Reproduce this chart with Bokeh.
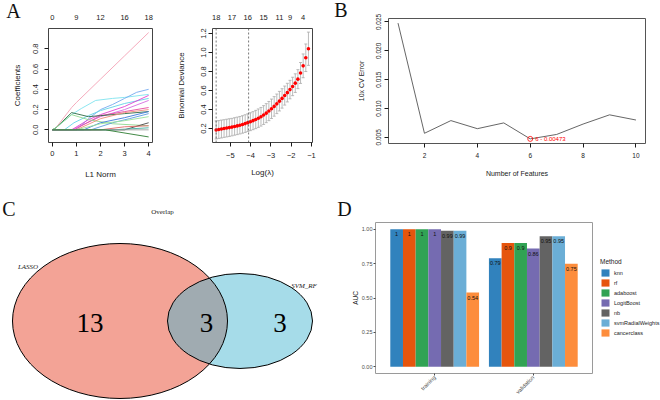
import math
from bokeh.plotting import figure
from bokeh.models import (Range1d, FixedTicker, LinearAxis, Legend, LegendItem, GridBox,
                          Whisker, TeeHead, ColumnDataSource, Span, PrintfTickFormatter)
from bokeh.embed import file_html
from bokeh.resources import INLINE
from bokeh.core.properties import value
from bokeh.transform import dodge

SANS = "Liberation Sans"
SERIF = "Liberation Serif"
INK = "#1a1a1a"

# ---------------- data ----------------
# Panel A (left): LASSO coefficient paths against L1 norm (knots)
coef_x = [
    [0, 0.15, 0.8, 1.0, 2.0, 3.0, 4.0],
    [0, 0.15, 0.5, 0.8, 1.2, 1.8, 2.5, 3.0, 4.0],
    [0, 1.0, 1.5, 2.0, 2.5, 3.0, 3.5, 4.0],
    [0, 0.5, 0.9, 1.5, 2.0, 3.0, 4.0],
    [0, 0.8, 1.5, 2.0, 3.0, 4.0],
    [0, 0.8, 2.0, 3.0, 4.0],
    [0, 0.9, 2.0, 3.0, 4.0],
    [0, 0.15, 0.8, 1.5, 2.0, 3.0, 4.0],
    [0, 0.15, 0.8, 1.5, 2.5, 4.0],
    [0, 1.0, 2.0, 3.0, 4.0],
    [0, 1.3, 2.0, 3.0, 4.0],
    [0, 1.6, 2.5, 3.2, 4.0],
    [0, 1.0, 2.0, 3.0, 4.0],
    [0, 3.0, 4.0],
    [0, 2.0, 3.0, 4.0],
    [0, 2.5, 4.0],
    [0, 4.0],
    [0, 2.2, 4.0],
]
coef_y = [
    [0, 0.02, 0.22, 0.27, 0.50, 0.73, 0.96],
    [0, 0.02, 0.09, 0.15, 0.21, 0.29, 0.31, 0.32, 0.35],
    [0, 0, 0.11, 0.20, 0.25, 0.31, 0.37, 0.40],
    [0, 0, 0.07, 0.14, 0.19, 0.26, 0.31],
    [0, 0, 0.10, 0.15, 0.23, 0.34],
    [0, 0, 0.13, 0.20, 0.29],
    [0, 0, 0.14, 0.18, 0.22],
    [0, 0.02, 0.17, 0.13, 0.14, 0.16, 0.18],
    [0, 0.02, 0.15, 0.10, 0.06, 0.04],
    [0, 0, 0.11, 0.17, 0.20],
    [0, 0, 0.07, 0.12, 0.18],
    [0, 0, 0.07, 0.11, 0.16],
    [0, 0, 0.06, 0.09, 0.13],
    [0, 0, 0.07],
    [0, 0, 0.03, 0.04],
    [0, 0, 0.02],
    [0, 0],
    [0, 0, -0.07],
]
coef_colors = ["#F4A0B4", "#7FE3EE", "#74A9F0", "#63D2E6", "#E23FD2", "#D66BE0",
               "#E8479E", "#2F6B45", "#8FD88F", "#F08878", "#3C78D8", "#5B9BE0",
               "#9BE39B", "#454545", "#E06666", "#3FAF9F", "#9E9E9E", "#2E7D32"]
l1_ticks = [0, 1, 2, 3, 4]
l1_top_labels = ["0", "9", "12", "16", "18"]
coef_ticks = [0.0, 0.2, 0.4, 0.6, 0.8]

# Panel A (right): cross-validated binomial deviance
log_lambda = [-5.70, -5.57, -5.44, -5.31, -5.18, -5.05, -4.92, -4.79, -4.66, -4.53,
              -4.40, -4.27, -4.14, -4.01, -3.88, -3.75, -3.62, -3.49, -3.36, -3.23,
              -3.10, -2.97, -2.84, -2.71, -2.58, -2.45, -2.32, -2.19, -2.06, -1.93,
              -1.80, -1.67, -1.54, -1.41, -1.28, -1.15]
binomial_dev = [0.185, 0.190, 0.195, 0.200, 0.205, 0.210, 0.215, 0.222, 0.228, 0.235,
                0.243, 0.252, 0.262, 0.272, 0.283, 0.295, 0.309, 0.324, 0.342, 0.362,
                0.384, 0.408, 0.433, 0.460, 0.488, 0.517, 0.547, 0.578, 0.610, 0.643,
                0.678, 0.720, 0.785, 0.860, 0.945, 1.040]
dev_se = [0.095, 0.094, 0.094, 0.093, 0.093, 0.093, 0.092, 0.092, 0.092, 0.092,
          0.092, 0.093, 0.093, 0.094, 0.095, 0.096, 0.097, 0.098, 0.099, 0.100,
          0.101, 0.102, 0.103, 0.103, 0.103, 0.102, 0.100, 0.098, 0.097, 0.097,
          0.098, 0.100, 0.110, 0.125, 0.145, 0.175]
lambda_marks = [-5.70, -4.10]
dev_top_ticks = [-5.70, -4.92, -4.14, -3.36, -2.58, -2.06, -1.41]
dev_top_labels = ["18", "17", "16", "15", "11", "9", "4"]
dev_x_ticks = [-5, -4, -3, -2, -1]
dev_y_ticks = [0.2, 0.4, 0.6, 0.8, 1.0, 1.2]

# Panel B: SVM-RFE cross-validation error
n_features = [1, 2, 3, 4, 5, 6, 7, 8, 9, 10]
cv_error = [0.0248, 0.0057, 0.0079, 0.0065, 0.0075, 0.00473, 0.0055, 0.0073, 0.0089, 0.0080]
cv_x_ticks = [2, 4, 6, 8, 10]
cv_y_ticks = [0.005, 0.010, 0.015, 0.020, 0.025]

# Panel C: Venn overlap
venn_sets = ["LASSO", "SVM_RF"]
venn_counts = [13, 3, 3]          # LASSO only, both, SVM_RF only

# Panel D: AUC per method
auc_methods = ["knn", "rf", "adaboost", "LogitBoost", "nb", "svmRadialWeights", "cancerclass"]
auc_splits = ["training", "validation"]
auc_training = [1, 1, 1, 1, 0.99, 0.99, 0.54]
auc_validation = [0.79, 0.9, 0.9, 0.86, 0.95, 0.95, 0.75]
method_colors = ["#3182BD", "#E6550D", "#31A354", "#756BB1", "#636363", "#6BAED6", "#FD8D3C"]
auc_ticks = [0.0, 0.25, 0.5, 0.75, 1.0]

panel_letters = ["A", "B", "C", "D"]


# ---------------- helpers ----------------
def base_fig(w, h, xr, yr, l, r, t, b):
    p = figure(width=w, height=h, x_range=xr, y_range=yr, output_backend="svg",
               toolbar_location=None, min_border_left=l, min_border_right=r,
               min_border_top=t, min_border_bottom=b, frame_align=False)
    p.grid.visible = False
    p.background_fill_color = "white"
    p.border_fill_color = "white"
    return p


def style_axis(ax, size, standoff, label_size, label_standoff, tick_out=4, color=INK):
    ax.axis_line_color = None
    ax.major_tick_line_color = color
    ax.major_tick_out = tick_out
    ax.major_tick_in = 0
    ax.minor_tick_line_color = None
    ax.major_label_text_font = SANS
    ax.major_label_text_font_size = size
    ax.major_label_text_color = color
    ax.major_label_standoff = standoff
    ax.axis_label_text_font = SANS
    ax.axis_label_text_font_size = label_size
    ax.axis_label_text_font_style = "normal"
    ax.axis_label_text_color = color
    ax.axis_label_standoff = label_standoff


# ---------------- Panel A left ----------------
pA1 = base_fig(165, 190, Range1d(-0.16, 4.16), Range1d(-0.125, 1.0), 48, 13, 28, 48)
pA1.outline_line_color = "#444444"
for xs, ys, c in zip(coef_x, coef_y, coef_colors):
    pA1.line(xs, ys, line_color=c, line_width=0.9)
style_axis(pA1.xaxis[0], "7.5px", 4, "8px", 11)
pA1.xaxis[0].ticker = FixedTicker(ticks=l1_ticks)
pA1.xaxis[0].axis_label = "L1 Norm"
style_axis(pA1.yaxis[0], "7.5px", 6, "8px", 9)
pA1.yaxis[0].ticker = FixedTicker(ticks=coef_ticks)
pA1.yaxis[0].formatter = PrintfTickFormatter(format="%.1f")
pA1.yaxis[0].major_label_orientation = "vertical"
pA1.yaxis[0].axis_label = "Coefficients"
topA1 = LinearAxis(ticker=FixedTicker(ticks=l1_ticks),
                   major_label_overrides={k: v for k, v in zip(l1_ticks, l1_top_labels)})
style_axis(topA1, "7.5px", 9, "8px", 0, tick_out=0)
pA1.add_layout(topA1, "above")

# ---------------- Panel A right ----------------
pA2 = base_fig(165, 190, Range1d(-5.88, -0.95), Range1d(0.053, 1.253), 47, 18, 28, 48)
pA2.outline_line_color = "#444444"
dev_src = ColumnDataSource(dict(x=log_lambda, y=binomial_dev,
                                lo=[d - s for d, s in zip(binomial_dev, dev_se)],
                                hi=[d + s for d, s in zip(binomial_dev, dev_se)]))
pA2.add_layout(Whisker(source=dev_src, base="x", lower="lo", upper="hi",
                       line_color="#AAAAAA", line_width=0.8,
                       lower_head=TeeHead(size=3, line_color="#AAAAAA", line_width=0.8),
                       upper_head=TeeHead(size=3, line_color="#AAAAAA", line_width=0.8)))
for lm in lambda_marks:
    pA2.add_layout(Span(location=lm, dimension="height", line_color="#555555",
                        line_dash="2 2", line_width=0.8))
pA2.scatter("x", "y", source=dev_src, size=3.6, fill_color="red", line_color=None)
style_axis(pA2.xaxis[0], "7.5px", 6, "8px", 7)
pA2.xaxis[0].ticker = FixedTicker(ticks=dev_x_ticks)
pA2.xaxis[0].axis_label = "Log(λ)"
style_axis(pA2.yaxis[0], "7.5px", 2, "8px", 13)
pA2.yaxis[0].ticker = FixedTicker(ticks=dev_y_ticks)
pA2.yaxis[0].formatter = PrintfTickFormatter(format="%.1f")
pA2.yaxis[0].major_label_orientation = "vertical"
pA2.yaxis[0].axis_label = "Binomial Deviance"
topA2 = LinearAxis(ticker=FixedTicker(ticks=dev_top_ticks),
                   major_label_overrides={k: v for k, v in zip(dev_top_ticks, dev_top_labels)})
style_axis(topA2, "7.5px", 9, "8px", 0, tick_out=0)
pA2.add_layout(topA2, "above")

# ---------------- Panel B ----------------
pB = base_fig(330, 190, Range1d(0.64, 10.36), Range1d(0.00393, 0.0256), 58, 15, 18, 47)
pB.outline_line_color = "#555555"
pB.line(n_features, cv_error, line_color="#555555", line_width=0.9)
imin = cv_error.index(min(cv_error))
pB.scatter([n_features[imin]], [cv_error[imin]], size=5, marker="circle",
           fill_color=None, line_color="red", line_width=0.8)
pB.text([n_features[imin]], [cv_error[imin]],
        text=["%d - %s" % (n_features[imin], format(cv_error[imin], "g"))],
        x_offset=5, text_align="left", text_baseline="middle", text_color="red",
        text_font=value(SANS), text_font_size="6px")
style_axis(pB.xaxis[0], "6.5px", 5, "7px", 9)
pB.xaxis[0].ticker = FixedTicker(ticks=cv_x_ticks)
pB.xaxis[0].axis_label = "Number of Features"
style_axis(pB.yaxis[0], "6.5px", 3, "7px", 9)
pB.yaxis[0].ticker = FixedTicker(ticks=cv_y_ticks)
pB.yaxis[0].formatter = PrintfTickFormatter(format="%.3f")
pB.yaxis[0].major_label_orientation = "vertical"
pB.yaxis[0].axis_label = "10x CV Error"

# ---------------- Panel C (Venn) ----------------
pC = figure(width=330, height=210, x_range=Range1d(0, 330), y_range=Range1d(210, 0),
            output_backend="svg", toolbar_location=None, min_border=0, frame_align=False,
            x_axis_location=None, y_axis_location=None)
pC.grid.visible = False
pC.outline_line_color = None
venn_cx = [119.5, 239.5]
venn_w = [215, 145]
venn_h = [155, 95]
venn_cy = 130.5
pC.ellipse(x=[venn_cx[0]], y=[venn_cy], width=[venn_w[0]], height=[venn_h[0]],
           fill_color="#F3A396", line_color=None)
pC.ellipse(x=[venn_cx[1]], y=[venn_cy], width=[venn_w[1]], height=[venn_h[1]],
           fill_color="#42B5D0", fill_alpha=0.47, line_color=None)
pC.ellipse(x=venn_cx, y=[venn_cy, venn_cy], width=venn_w, height=venn_h,
           fill_color=None, line_color="black", line_width=1)
pC.text(x=[89.5, 206, 279.5], y=[132, 132, 132], text=[str(c) for c in venn_counts],
        text_font=value(SERIF), text_font_size="27px", text_align="center",
        text_baseline="middle", text_color="black")
pC.text(x=[27.5, 303.5], y=[76, 95], text=venn_sets, text_font=value(SERIF),
        text_font_style="italic", text_font_size="7px", text_align="center",
        text_baseline="middle", text_color="#222222")
pC.text(x=[162], y=[21], text=["Overlap"], text_font=value(SERIF), text_font_size="7px",
        text_align="center", text_baseline="middle", text_color="#222222")

# ---------------- Panel D (AUC bars) ----------------
pD = base_fig(330, 210, Range1d(0.4, 2.6), Range1d(-0.05, 1.05), 45, 68, 32, 25)
pD.outline_line_color = "#9a9a9a"
split_pos = [1, 2]
bw = 0.9 / len(auc_methods)
bar_sources = []
for i, m in enumerate(auc_methods):
    vals = [auc_training[i], auc_validation[i]]
    src = ColumnDataSource(dict(x=split_pos, top=vals, lab=[format(v, "g") for v in vals]))
    bar_sources.append(src)
    off = (i - (len(auc_methods) - 1) / 2) * bw
    pD.vbar(x=dodge("x", off), top="top", width=bw, source=src,
            fill_color=method_colors[i], line_color=None)
    pD.text(x=dodge("x", off), y="top", text="lab", source=src, y_offset=5,
            text_align="center", text_baseline="middle", text_font=value(SANS),
            text_font_size="5.5px", text_color="#111111")
style_axis(pD.yaxis[0], "5.5px", 1, "6.5px", 0, tick_out=2, color="#4d4d4d")
pD.yaxis[0].axis_label_text_color = INK
pD.yaxis[0].ticker = FixedTicker(ticks=auc_ticks)
pD.yaxis[0].formatter = PrintfTickFormatter(format="%.2f")
pD.yaxis[0].axis_label = "AUC"
style_axis(pD.xaxis[0], "5.5px", 1, "6.5px", 0, tick_out=2, color="#4d4d4d")
pD.xaxis[0].ticker = FixedTicker(ticks=split_pos)
pD.xaxis[0].major_label_overrides = {k: v for k, v in zip(split_pos, auc_splits)}
pD.xaxis[0].major_label_orientation = math.pi / 4

# ---------------- transparent overlay: panel letters + legend of panel D ----------------
ov = figure(width=660, height=400, x_range=Range1d(0, 660), y_range=Range1d(400, 0),
            output_backend="svg", toolbar_location=None, min_border=0, frame_align=False,
            x_axis_location=None, y_axis_location=None)
ov.grid.visible = False
ov.outline_line_color = None
ov.background_fill_color = None
ov.border_fill_color = None
ov.text(x=[13, 340.5, 8.5, 344], y=[10, 9, 208, 208], text=panel_letters,
        text_font=value(SERIF), text_font_size="20px", text_align="center",
        text_baseline="middle", text_color="#111111")
# legend keys: hidden copies of panel D's bar glyphs (same sources, never drawn)
keys = [ov.vbar(x="x", top="top", width=bw, source=s, fill_color=c, line_color=None,
                visible=False) for s, c in zip(bar_sources, method_colors)]
leg = Legend(items=[LegendItem(label=m, renderers=[k]) for m, k in zip(auc_methods, keys)],
             location=(600, 63), title="Method",
             title_text_font=SANS, title_text_font_size="6.5px", title_text_font_style="normal",
             title_text_color=INK, title_standoff=3,
             label_text_font=SANS, label_text_font_size="5.5px", label_text_color=INK,
             glyph_width=10, glyph_height=9, label_height=9, spacing=1, padding=0, margin=0,
             label_standoff=4, border_line_color=None, background_fill_alpha=0,
             inactive_fill_alpha=0)
ov.add_layout(leg)

layout = GridBox(children=[(pA1, 0, 0), (pA2, 0, 1), (pB, 0, 2),
                           (pC, 1, 0, 1, 2), (pD, 1, 2),
                           (ov, 0, 0, 2, 3)],
                 cols=["165px", "165px", "330px"], rows=["190px", "210px"],
                 spacing=0, width=660, height=400)
open("out.html", "w").write(file_html(layout, INLINE))
